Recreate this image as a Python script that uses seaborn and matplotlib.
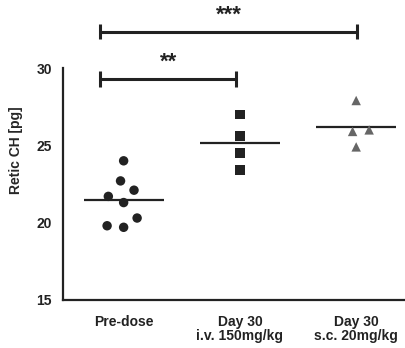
import matplotlib
matplotlib.use("Agg")
import matplotlib.pyplot as plt
import seaborn as sns
import pandas as pd
import numpy as np

categories = ["Pre-dose", "Day 30\ni.v. 150mg/kg", "Day 30\ns.c. 20mg/kg"]
predose = [24.0, 22.7, 22.1, 21.7, 21.3, 20.3, 19.7, 19.8]
iv_150 = [27.0, 25.6, 24.5, 23.4]
sc_20 = [27.9, 26.0, 25.9, 24.9]
yticks = [15, 20, 25, 30]
markers = ["o", "s", "^"]
colors = ["#222222", "#222222", "#666666"]
sig_pairs = [(0, 1, "**"), (0, 2, "***")]

sns.set_theme(style="white")
plt.rcParams["font.family"] = ["Liberation Sans", "DejaVu Sans"]
plt.rcParams["font.weight"] = "bold"

df = pd.DataFrame({
    "group": [categories[0]] * len(predose) + [categories[1]] * len(iv_150) + [categories[2]] * len(sc_20),
    "value": predose + iv_150 + sc_20,
})

fig = plt.figure(figsize=(4.05, 3.48), dpi=100)
ax = fig.add_axes([0.156, 0.138, 0.844, 0.862])

for cat, m, c in zip(categories, markers, colors):
    sub = df[df["group"] == cat]
    sns.swarmplot(data=sub, x="group", y="value", order=categories, marker=m,
                  color=c, size=6.8, linewidth=4.6,
                  edgecolor="none", ax=ax)

sns.pointplot(data=df, x="group", y="value", order=categories, estimator="mean",
              errorbar=None, marker="_", linestyle="none", color="#222222",
              markersize=57, markeredgewidth=1.6, ax=ax)

ax.set_ylim(15, 34.4)
ax.set_xlim(-0.52, 2.42)
ax.set_yticks(yticks)
ax.set_yticklabels([str(t) for t in yticks], fontsize=10, fontweight="bold")
ax.set_xticks(range(len(categories)))
ax.set_xticklabels(categories, fontsize=10, fontweight="bold", linespacing=1.0)
ax.set_xlabel("")
ax.set_ylabel("Retic CH [pg]", fontsize=10, fontweight="bold", labelpad=10)

for s in ["top", "right"]:
    ax.spines[s].set_visible(False)
for s in ["left", "bottom"]:
    ax.spines[s].set_linewidth(1.6)
    ax.spines[s].set_color("#222222")
ax.spines["left"].set_bounds(15, 30)
ax.tick_params(axis="both", direction="out", length=5, width=1.6, color="#222222", labelcolor="#222222")
ax.tick_params(axis="y", pad=3)
ax.tick_params(axis="x", pad=6)

# significance brackets
levels = [29.3, 32.35]
for (a, b, lab), y in zip(sig_pairs, levels):
    x0 = a - 0.2
    x1 = b - 0.03 if b == 1 else b + 0.01
    ax.plot([x0, x1], [y, y], color="#222222", lw=2.2, solid_capstyle="butt")
    ax.plot([x0, x0], [y - 0.5, y + 0.5], color="#222222", lw=2.2, solid_capstyle="butt")
    ax.plot([x1, x1], [y - 0.5, y + 0.5], color="#222222", lw=2.2, solid_capstyle="butt")
    ax.text((x0 + x1) / 2, y + 0.4, lab, ha="center", va="bottom", fontsize=16,
            fontweight="bold", color="#222222")

fig.savefig("out.png", dpi=100)
